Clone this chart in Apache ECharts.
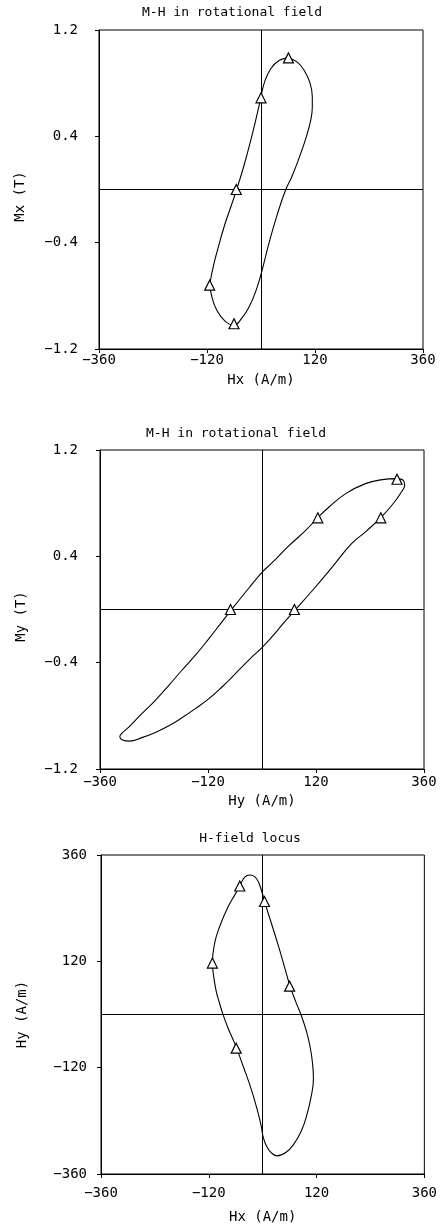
<!DOCTYPE html>
<html><head><meta charset="utf-8">
<script src="https://cdn.jsdelivr.net/npm/echarts@6/dist/echarts.min.js"></script>
<style>html,body{margin:0;padding:0;background:#fff}#c{width:440px;height:1228px}</style>
</head><body><div id="c"></div>
<script>
// ---- data ----
const titles = ['M-H in rotational field', 'M-H in rotational field', 'H-field locus'];
const xNames = ['Hx (A/m)', 'Hy (A/m)', 'Hx (A/m)'];
const yNames = ['Mx (T)', 'My (T)', 'Hy (A/m)'];
const hTicks = [-360, -120, 120, 360];
const mTicks = [-1.2, -0.4, 0.4, 1.2];

// Panel 1: Mx (T) vs Hx (A/m)
const mxLoop = [[59,0.99],[80,0.96],[97,0.89],[109,0.80],[114,0.70],[114,0.62],[111,0.53],[101,0.40],[86,0.25],[69,0.10],[55,0.0],[35,-0.20],[18,-0.40],[3,-0.60],[-10,-0.75],[-26,-0.88],[-43,-0.97],[-60,-1.02],[-80,-0.99],[-98,-0.91],[-109,-0.81],[-113,-0.72],[-108,-0.61],[-97,-0.46],[-82,-0.28],[-67,-0.13],[-54,0.0],[-37,0.19],[-19,0.42],[-5,0.62],[0,0.70],[8,0.81],[22,0.91],[40,0.97],[59,0.99]];
const mxMarks = [[61,0.99],[0,0.69],[-55,0.0],[-114,-0.72],[-60,-1.01]];

// Panel 2: My (T) vs Hy (A/m)
const myLoop = [[299,0.985],[267,0.977],[230,0.947],[186,0.872],[149,0.771],[124,0.691],[97,0.595],[60,0.48],[22,0.35],[0,0.28],[-30,0.158],[-70,-0.01],[-89,-0.093],[-118,-0.219],[-148,-0.344],[-178,-0.457],[-207,-0.57],[-237,-0.683],[-267,-0.784],[-296,-0.885],[-311,-0.93],[-316,-0.958],[-310,-0.981],[-294,-0.99],[-267,-0.964],[-237,-0.925],[-207,-0.875],[-178,-0.815],[-148,-0.746],[-118,-0.671],[-89,-0.583],[-59,-0.482],[-30,-0.382],[0,-0.286],[22,-0.206],[44,-0.118],[72,-0.01],[112,0.143],[156,0.319],[199,0.495],[232,0.59],[264,0.691],[290,0.79],[308,0.875],[317,0.935],[314,0.972],[299,0.985]];
const myMarks = [[300,0.98],[124,0.69],[264,0.69],[-70,0.0],[72,0.0]];

// Panel 3: Hy vs Hx (A/m)
const hLoop = [[4,255],[19,207],[35,155],[49,106],[61,64],[74,28],[87,-5],[98,-40],[106,-75],[111,-110],[113,-145],[108,-185],[98,-228],[86,-263],[69,-293],[52,-311],[32,-319],[20,-313],[9,-298],[1,-276],[-3,-253],[-10,-223],[-25,-170],[-43,-118],[-58,-76],[-67,-54],[-77,-31],[-88,-1],[-96,25],[-104,55],[-110,93],[-112,116],[-107,161],[-96,198],[-77,243],[-62,270],[-51,290],[-40,310],[-29,315],[-14,307],[-3,281],[4,255]];
const hMarks = [[-51,290],[4,255],[-112,116],[60,64],[-59,-76]];

// ---- chart ----
const FONT = 'DejaVu Sans Mono';
const minus = s => s.replace('-', '\u2212');
const fmtH = v => minus(String(Math.round(v)));
const fmtM = v => minus(v.toFixed(1));

const grids = [
  {left: 99, top: 30, width: 324, height: 319},
  {left: 100, top: 450, width: 324, height: 319},
  {left: 101, top: 855, width: 325, height: 319}
];
const titlePos = [[232, 5], [236, 426], [250, 831]];
const xLabelMargin = [4, 6, 12];
const xNameGap = [24, 25, 36];
const yLabelMargin = [21, 22, 14];
const yNameGap = [72, 72, 72];
const yNamePad = [[0, 14, 0, 0], [0, 14, 0, 0], [0, 0, 0, 0]];
const yRanges = [[-1.2, 1.2, mTicks, fmtM], [-1.2, 1.2, mTicks, fmtM], [-360, 360, hTicks, fmtH]];
const loops = [mxLoop, myLoop, hLoop];
const marks = [mxMarks, myMarks, hMarks];

const black = '#000';
function axisCommon() {
  return {
    axisLine: {show: true, onZero: false, lineStyle: {color: black, width: 1}},
    splitLine: {show: false}
  };
}

const option = {
  animation: false,
  backgroundColor: '#fff',
  title: titles.map((t, i) => ({
    text: t, left: titlePos[i][0], top: titlePos[i][1], textAlign: 'center', padding: 0,
    textStyle: {fontSize: 13, fontWeight: 'normal', color: black, fontFamily: FONT, lineHeight: 16}
  })),
  grid: grids.map(g => Object.assign({show: true, borderColor: black, borderWidth: 1, backgroundColor: 'transparent'}, g)),
  xAxis: grids.map((g, i) => Object.assign(axisCommon(), {
    type: 'value', gridIndex: i, min: -360, max: 360,
    name: xNames[i], nameLocation: 'middle', nameGap: xNameGap[i],
    nameTextStyle: {color: black, fontSize: 14, fontFamily: FONT},
    axisTick: {show: true, length: 4, customValues: hTicks, lineStyle: {color: black}},
    axisLabel: {customValues: hTicks, margin: xLabelMargin[i], color: black, fontSize: 14, fontFamily: FONT, formatter: fmtH}
  })),
  yAxis: grids.map((g, i) => Object.assign(axisCommon(), {
    type: 'value', gridIndex: i, min: yRanges[i][0], max: yRanges[i][1],
    name: yNames[i], nameLocation: 'middle', nameGap: yNameGap[i],
    nameTextStyle: {color: black, fontSize: 14, fontFamily: FONT, padding: yNamePad[i]},
    axisTick: {show: true, length: 4, customValues: yRanges[i][2], lineStyle: {color: black}},
    axisLabel: {customValues: yRanges[i][2], margin: yLabelMargin[i], color: black, fontSize: 14, fontFamily: FONT, formatter: yRanges[i][3]}
  })),
  series: []
};

loops.forEach((loop, i) => {
  option.series.push({
    type: 'line', xAxisIndex: i, yAxisIndex: i, data: loop,
    smooth: 0.45, showSymbol: false, symbol: 'none',
    lineStyle: {color: black, width: 1.1}, silent: true, z: 3,
    markLine: {
      silent: true, symbol: ['none', 'none'], label: {show: false},
      lineStyle: {color: black, type: 'solid', width: 1},
      data: [{xAxis: 0}, {yAxis: 0}]
    }
  });
  option.series.push({
    type: 'scatter', xAxisIndex: i, yAxisIndex: i, data: marks[i],
    symbol: 'triangle', symbolSize: 10,
    itemStyle: {color: '#fff', borderColor: black, borderWidth: 1.2, opacity: 1}, z: 5
  });
});

const chart = echarts.init(document.getElementById('c'), null, {renderer: 'canvas'});
chart.setOption(option);
</script>
</body></html>
